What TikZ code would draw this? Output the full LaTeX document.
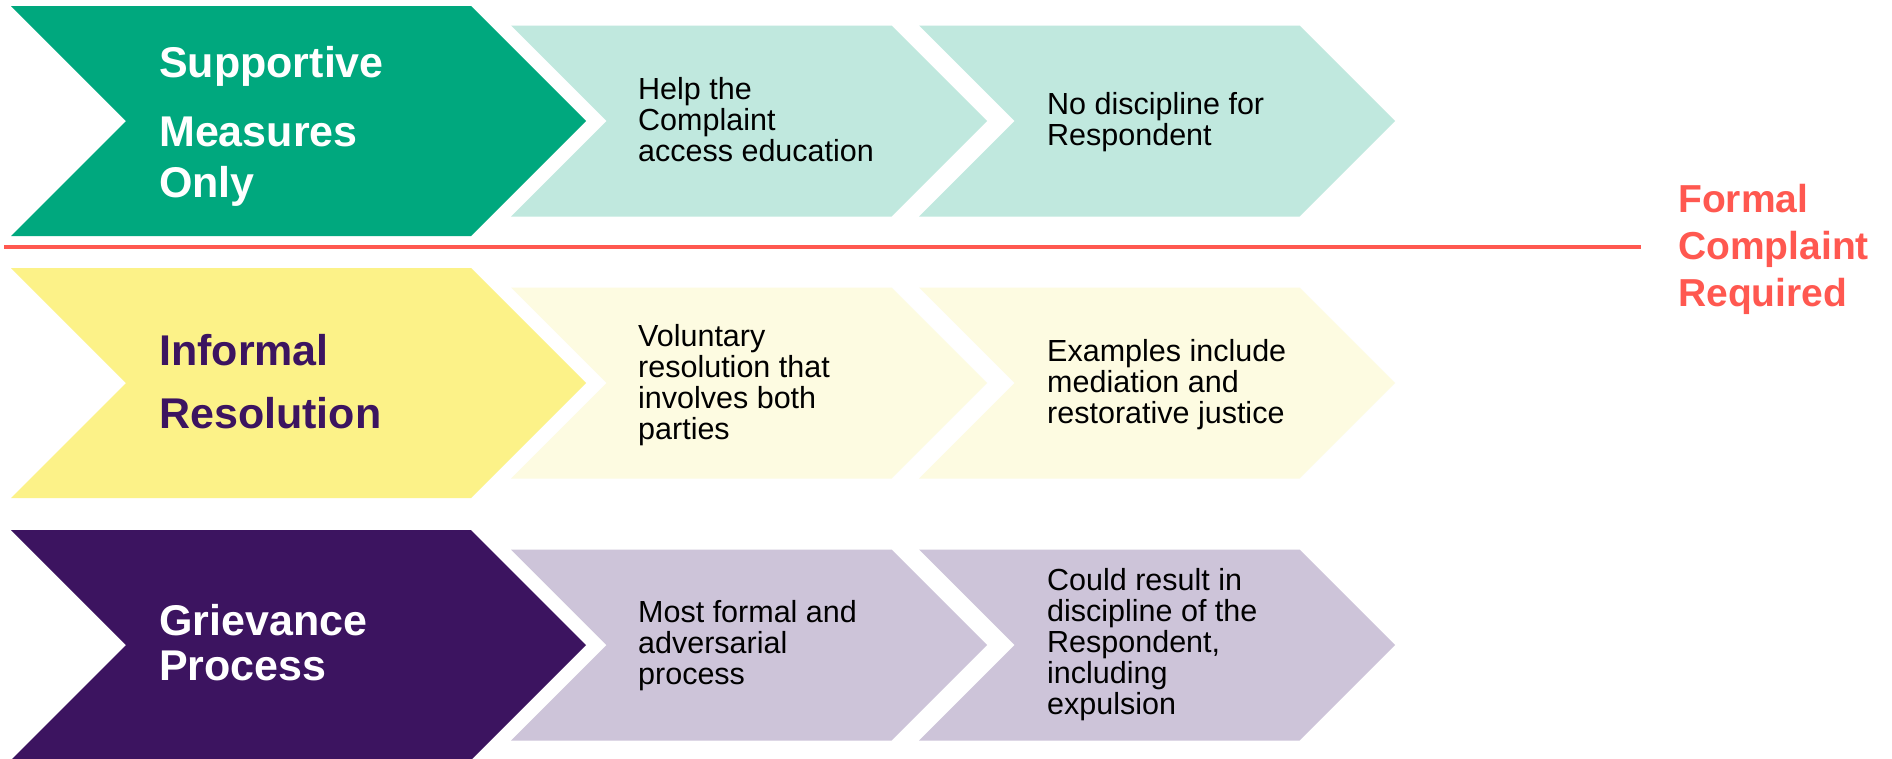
\documentclass[tikz,border=0pt]{standalone}
\usepackage{fontspec}
\setmainfont{Liberation Sans}
\definecolor{cgreen}{RGB}{0,168,126}
\definecolor{cgreenl}{RGB}{192,232,222}
\definecolor{cyellow}{RGB}{252,242,136}
\definecolor{cyellowl}{RGB}{253,251,225}
\definecolor{cpurple}{RGB}{60,20,96}
\definecolor{cpurplel}{RGB}{205,196,217}
\definecolor{cred}{RGB}{255,88,80}
\tikzset{
  maintext/.style={font=\fontsize{43}{45}\selectfont\bfseries, align=left, inner sep=0pt, anchor=north west},
  bodytext/.style={font=\fontsize{30.5}{31}\selectfont, align=left, inner sep=0pt, anchor=north west, text=black},
  redtext/.style={font=\fontsize{39}{47}\selectfont\bfseries, align=left, inner sep=0pt, anchor=north west, text=cred}
}
% big chevron: #1 colour, #2 centre y
\newcommand{\bigchev}[2]{\fill[#1] (11,#2-115) -- (471,#2-115) -- (586,#2) -- (471,#2+115) -- (11,#2+115) -- (126,#2) -- cycle;}
% small chevron: #1 colour, #2 left x, #3 centre y
\newcommand{\smallchev}[3]{\fill[#1] (#2,#3-95.5) -- (#2+380.5,#3-95.5) -- (#2+476,#3) -- (#2+380.5,#3+95.5) -- (#2,#3+95.5) -- (#2+95.5,#3) -- cycle;}
\begin{document}
\begin{tikzpicture}[x=1pt,y=-1pt]
\useasboundingbox (0,0) rectangle (1892,758);
\clip (0,0) rectangle (1892,758);
\fill[white] (0,0) rectangle (1892,758);

% row 1
\bigchev{cgreen}{121}
\smallchev{cgreenl}{511}{121}
\smallchev{cgreenl}{919}{121}
% row 2
\bigchev{cyellow}{383}
\smallchev{cyellowl}{511}{383}
\smallchev{cyellowl}{919}{383}
% row 3
\bigchev{cpurple}{645}
\smallchev{cpurplel}{511}{645}
\smallchev{cpurplel}{919}{645}

% red separator
\coordinate (redL) at (4,247);
\coordinate (redR) at (1641,247);
\draw[cred, line width=3.5pt] (redL) -- (redR);

% main labels
\node[maintext, text=white] (m1) at (159,45.7) {Supportive\\[24pt]Measures\\[6pt]Only};
\node[maintext, text=cpurple] (m2) at (159,333.7) {Informal\\[18pt]Resolution};
\node[maintext, text=white] (m3) at (159,603.7) {Grievance\\Process};

% body texts
\node[bodytext] (a1) at (638,77.2) {Help the\\Complaint\\access education};
\node[bodytext] (b1) at (1047,92.3) {No discipline for\\Respondent};
\node[bodytext] (a2) at (638,324.2) {Voluntary\\resolution that\\involves both\\parties};
\node[bodytext] (b2) at (1047,339.2) {Examples include\\mediation and\\restorative justice};
\node[bodytext] (a3) at (638,599.8) {Most formal and\\adversarial\\process};
\node[bodytext] (b3) at (1047,568.5) {Could result in\\discipline of the\\Respondent,\\including\\expulsion};

% formal complaint label
\node[redtext] (fc) at (1678,183.8) {Formal\\Complaint\\Required};
\end{tikzpicture}
\end{document}
